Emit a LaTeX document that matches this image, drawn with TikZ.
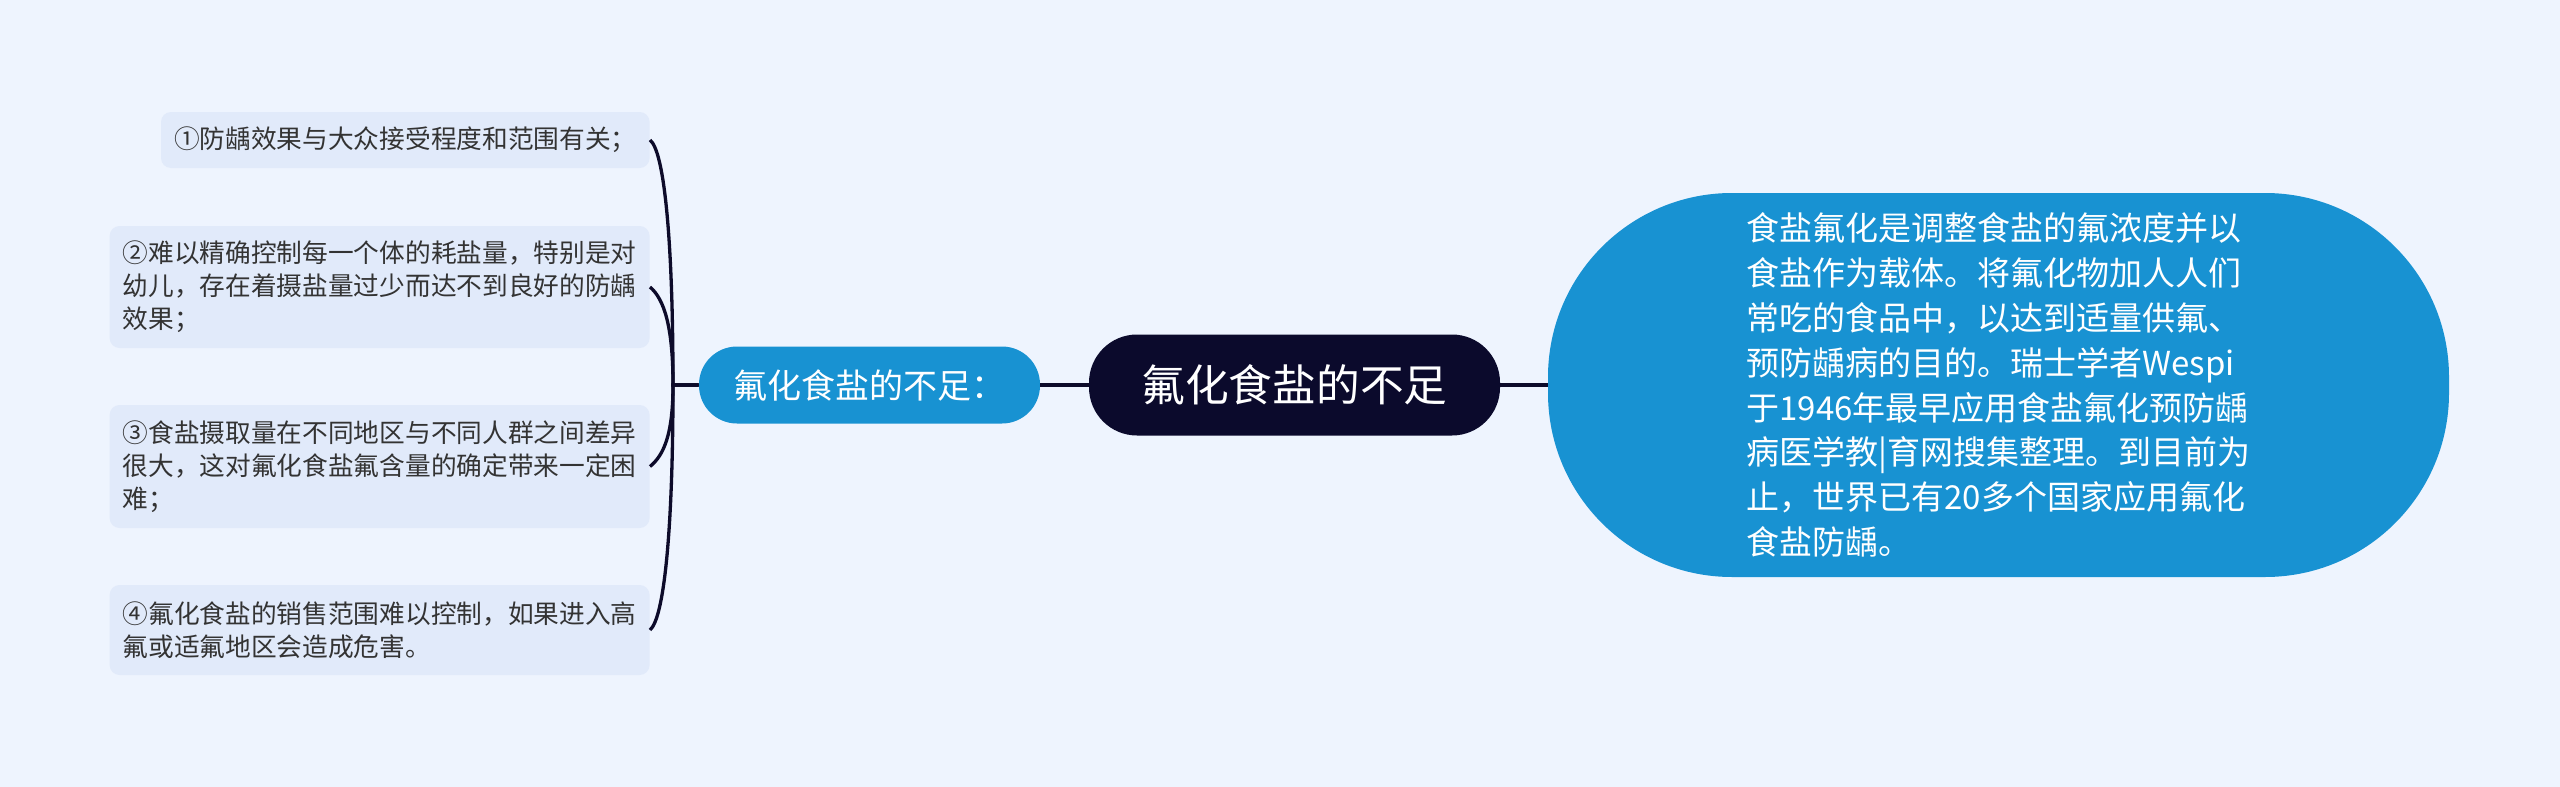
\documentclass[tikz,border=0pt]{standalone}
\usepackage{fontspec}
\setmainfont{Noto Sans CJK SC}
\definecolor{bgc}{HTML}{EEF4FE}
\definecolor{leaffill}{HTML}{E1EAFA}
\definecolor{bluefill}{HTML}{1892D2}
\definecolor{darkfill}{HTML}{0B0A2C}
\definecolor{leaftext}{HTML}{333333}
\definecolor{linec}{HTML}{0D0B2A}
\tikzset{
  leafbox/.style={anchor=east, fill=leaffill, rounded corners=5pt, inner xsep=6.5pt, inner ysep=0pt,
    align=left, text=leaftext, font={\fontsize{12.85pt}{16.5pt}\selectfont}},
  conn/.style={draw=linec, line width=1.65pt},
}
\begin{document}
\begin{tikzpicture}[x=0.5pt,y=-0.5pt]
\useasboundingbox (0,0) rectangle (2560,787);
\fill[bgc] (0,0) rectangle (2560,787);

% central node
\node[fill=darkfill, rounded corners=24pt, minimum width=205.5pt, minimum height=50.5pt, inner sep=0pt,
  text=white, font={\fontsize{21.85pt}{26pt}\selectfont}] (C) at (1294.5,385) {氟化食盐的不足};

% left node
\node[fill=bluefill, rounded corners=19pt, minimum width=170.5pt, minimum height=38.5pt, inner sep=0pt,
  text=white, font={\fontsize{17pt}{20pt}\selectfont}] (L) at (869.5,385) {氟化食盐的不足：};

% right node
\node[fill=bluefill, rounded corners=92pt, minimum width=450.5pt, minimum height=192pt, inner sep=0pt,
  text=white, align=left, font={\fontsize{16.5pt}{22.4pt}\selectfont}] (R) at (1998.5,385) {食盐氟化是调整食盐的氟浓度并以\\食盐作为载体。将氟化物加人人们\\常吃的食品中，以达到适量供氟、\\预防龋病的目的。瑞士学者Wespi\\于1946年最早应用食盐氟化预防龋\\病医学教|育网搜集整理。到目前为\\止，世界已有20多个国家应用氟化\\食盐防龋。};

% leaves
\node[leafbox, minimum height=28pt] (A1) at (650,140) {①防龋效果与大众接受程度和范围有关；};
\node[leafbox, minimum height=61pt] (A2) at (650,287) {②难以精确控制每一个体的耗盐量，特别是对\\幼儿，存在着摄盐量过少而达不到良好的防龋\\效果；};
\node[leafbox, minimum height=61.5pt] (A3) at (650,466.5) {③食盐摄取量在不同地区与不同人群之间差异\\很大，这对氟化食盐氟含量的确定带来一定困\\难；};
\node[leafbox, minimum height=45pt] (A4) at (650,630) {④氟化食盐的销售范围难以控制，如果进入高\\氟或适氟地区会造成危害。};

% connectors
\draw[conn] (L.east) -- (C.west);
\draw[conn] (C.east) -- (R.west);
\coordinate (stem) at (673,385);
\draw[conn] (L.west) -- (stem) .. controls (673,237) and (664,151) .. (A1.east);
\draw[conn] (L.west) -- (stem) .. controls (673,326) and (664,299) .. (A2.east);
\draw[conn] (L.west) -- (stem) .. controls (673,434) and (664,455) .. (A3.east);
\draw[conn] (L.west) -- (stem) .. controls (673,532) and (664,618) .. (A4.east);
\end{tikzpicture}
\end{document}
